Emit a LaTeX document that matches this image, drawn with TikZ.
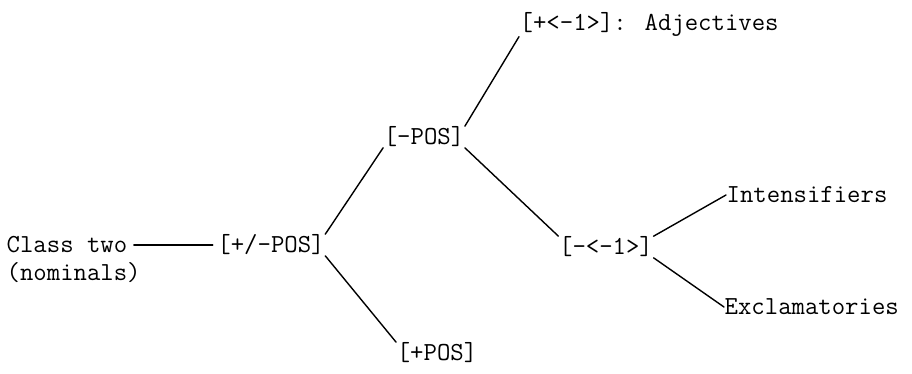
\documentclass[tikz,border=0pt]{standalone}
\usepackage{fontspec}
\usepackage{tikz}

\begin{document}
\begin{tikzpicture}[x=1pt,y=-1pt,
    feat/.style={font=\ttfamily\fontsize{26}{30}\selectfont, inner sep=0.5pt},
    branch/.style={line width=1.4pt, line cap=round}]
  \useasboundingbox (0,0) rectangle (912,373);
  % Root
  \node [feat, anchor=west] (cls) at (6,245) {Class two};
  \node [feat, anchor=west] (nom) at (6,273) {(nominals)};
  % Features
  \node [feat] (pm) at (271,245) {[+/-POS]};
  \node [feat] (mpos) at (424,137) {[-POS]};
  \node [feat] (ppos) at (437,353) {[+POS]};
  \node [feat, anchor=west] (adj) at (519,24) {[+<-1>]: Adjectives};
  \node [feat] (mmin) at (606,247) {[-<-1>]};
  % Leaves
  \node [feat, anchor=west] (int) at (726,195) {Intensifiers};
  \node [feat, anchor=west] (exc) at (724,307) {Exclamatories};
  % Branches
  \draw [branch, shorten <=6pt, shorten >=4pt] (cls) -- (pm);
  \draw [branch] (pm.north east) -- (mpos.south west);
  \draw [branch] (pm.south east) -- (ppos.north west);
  \draw [branch] (mpos.north east) -- (adj.south west);
  \draw [branch] (mpos.south east) -- (mmin.north west);
  \draw [branch] (mmin.north east) -- (int.west);
  \draw [branch] (mmin.south east) -- (exc.west);
\end{tikzpicture}
\end{document}
